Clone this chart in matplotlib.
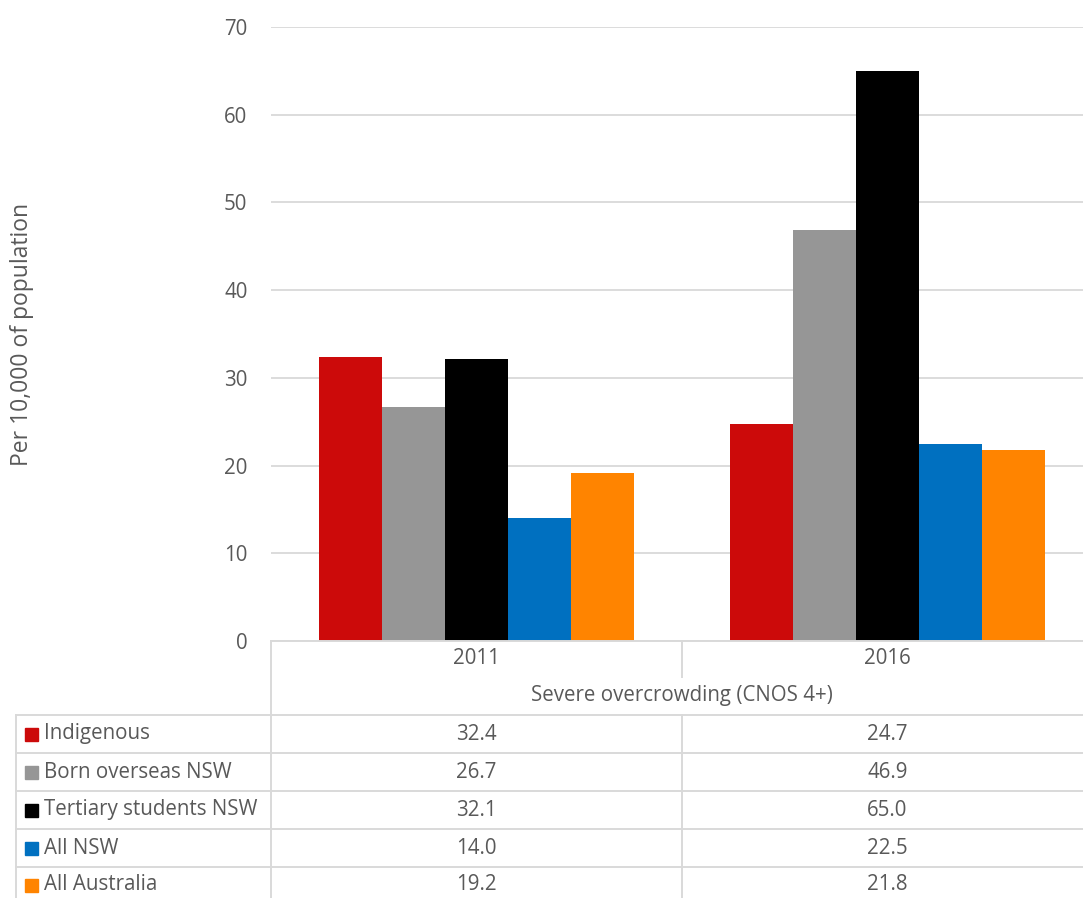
import matplotlib.pyplot as plt
import numpy as np
from matplotlib.patches import Rectangle

# Severe overcrowding (CNOS 4+), per 10,000 of population
years = ['2011', '2016']
group_label = 'Severe overcrowding (CNOS 4+)'
series_names = ['Indigenous', 'Born overseas NSW', 'Tertiary students NSW',
                'All NSW', 'All Australia']
indigenous = [32.4, 24.7]
born_overseas = [26.7, 46.9]
tertiary = [32.1, 65.0]
all_nsw = [14.0, 22.5]
all_australia = [19.2, 21.8]
series_values = [indigenous, born_overseas, tertiary, all_nsw, all_australia]
colors = ['#cc0a0a', '#969696', '#000000', '#0070c0', '#ff8400']

TEXT = '#595959'
GRID = '#d9d9d9'
W, H = 1083, 898
FONT = 'Open Sans'
FS = 14.8

fig = plt.figure(figsize=(W / 100, H / 100), dpi=100)


def fx(px):
    return px / W


def fy(py):
    return 1 - py / H


# bar axes: categories span 271..1093 px, y 0..70 from 641 to 27 px
left, right, top, bottom = 271, 1093, 27, 641
ax = fig.add_axes([fx(left), fy(bottom), fx(right - left), fy(top) - fy(bottom)])
ax.set_xlim(-0.5, len(years) - 0.5)
ax.set_ylim(0, 70)

n = len(series_names)
bar_w = 63 / 411
x = np.arange(len(years))
for i, (vals, c) in enumerate(zip(series_values, colors)):
    ax.bar(x + (i - (n - 1) / 2) * bar_w, vals, width=bar_w, color=c, zorder=3)

ax.set_yticks(range(0, 71, 10))
ax.yaxis.grid(True, color=GRID, linewidth=1.3, zorder=0)
ax.set_xticks([])
for s in ax.spines.values():
    s.set_visible(False)
ax.tick_params(axis='y', length=0, pad=17, labelsize=FS, labelcolor=TEXT)
for lbl in ax.get_yticklabels():
    lbl.set_fontfamily(FONT)

fig.text(fx(22), fy(334), 'Per 10,000 of population', rotation=90,
         ha='center', va='center', fontsize=16.5, color=TEXT, family=FONT)

# data table below the plot, drawn in pixel coordinates
tab = fig.add_axes([0, 0, 1, 1])
tab.set_xlim(0, W)
tab.set_ylim(H, 0)
tab.axis('off')

lw = 1.4
col_x = [left, 682, right]
row_y = [715, 753, 791, 829, 867, 905]

# vertical borders
tab.plot([left, left], [bottom, H], color=GRID, lw=lw)
tab.plot([682, 682], [bottom, 677], color=GRID, lw=lw)
tab.plot([682, 682], [715, H], color=GRID, lw=lw)
tab.plot([16, 16], [715, H], color=GRID, lw=lw)
tab.plot([left, W], [bottom, bottom], color=GRID, lw=lw)
for yy in row_y[:-1]:
    tab.plot([16, W], [yy, yy], color=GRID, lw=lw)

# category header rows
for j, yr in enumerate(years):
    cx = (col_x[j] + col_x[j + 1]) / 2
    tab.text(cx, 659, yr, ha='center', va='center', fontsize=FS, color=TEXT,
             family=FONT)
tab.text((left + right) / 2, 696, group_label, ha='center', va='center',
         fontsize=FS, color=TEXT, family=FONT)

# series rows with legend keys
for i, (name, vals, c) in enumerate(zip(series_names, series_values, colors)):
    cy = (row_y[i] + row_y[i + 1]) / 2
    if i == len(series_names) - 1:
        cy = 885
    tab.add_patch(Rectangle((25, cy - 6.5), 13, 13, color=c))
    tab.text(44, cy, name, ha='left', va='center', fontsize=FS, color=TEXT,
             family=FONT)
    for j, v in enumerate(vals):
        cx = (col_x[j] + col_x[j + 1]) / 2
        tab.text(cx, cy, f'{v:.1f}', ha='center', va='center', fontsize=FS,
                 color=TEXT, family=FONT)

fig.savefig('out.png', dpi=100)
